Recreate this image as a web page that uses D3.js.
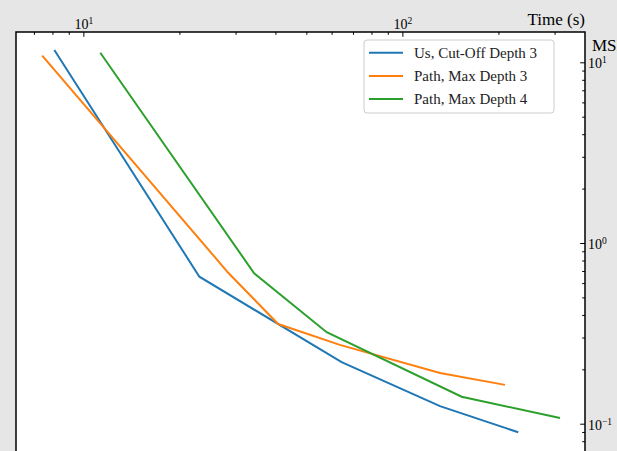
<!DOCTYPE html>
<html>
<head>
<meta charset="utf-8">
<script src="https://cdn.jsdelivr.net/npm/d3@7"></script>
<style>
  body { margin: 0; background: #e6e6e6; }
  svg { display: block; font-family: "Liberation Serif", "DejaVu Serif", serif; }
</style>
</head>
<body>
<svg id="chart" width="617" height="451"></svg>
<script>
const seriesNames = ["Us, Cut-Off Depth 3", "Path, Max Depth 3", "Path, Max Depth 4"];
const usTime = [8.11, 23.1, 64.5, 131.2, 230.8];
const usMse = [11.7, 0.651, 0.219, 0.125, 0.0896];
const path3Time = [7.43, 28.5, 40.8, 63.7, 131.2, 209.7];
const path3Mse = [10.9, 0.682, 0.356, 0.273, 0.191, 0.164];
const path4Time = [11.3, 34.3, 57.9, 153.4, 311.9];
const path4Mse = [11.3, 0.68, 0.321, 0.141, 0.1075];
const xMajor = [10, 100];
const yMajor = [0.1, 1, 10];

const COLORS = ["#1f77b4", "#ff7f0e", "#2ca02c"];
const frame = { left: 16, right: 585, top: 32, bottom: 470 };

const svg = d3.select("#chart");

const x = d3.scaleLog()
  .domain([6.15, 373.6])
  .range([frame.left, frame.right]);

const y = d3.scaleLog()
  .domain([0.1, 10])
  .range([423.7, 62.3]);

// minor ticks from 2..9 of each decade
function minors(scale) {
  const [a, b] = scale.domain();
  const out = [];
  for (let e = Math.floor(Math.log10(a)); e <= Math.ceil(Math.log10(b)); e++) {
    for (let m = 2; m <= 9; m++) {
      const v = m * Math.pow(10, e);
      const p = scale(v);
      if (p >= Math.min(...scale.range()) && p <= Math.max(...scale.range())) out.push(v);
    }
  }
  return out;
}
const yMin = [];
for (let e = -2; e <= 1; e++) for (let m = 2; m <= 9; m++) yMin.push(m * Math.pow(10, e));

svg.append("rect")
  .attr("x", frame.left).attr("y", frame.top)
  .attr("width", frame.right - frame.left).attr("height", frame.bottom - frame.top)
  .attr("fill", "white");

svg.append("defs").append("clipPath").attr("id", "clip")
  .append("rect")
  .attr("x", frame.left).attr("y", frame.top)
  .attr("width", frame.right - frame.left).attr("height", frame.bottom - frame.top);

function supLabel(sel) {
  sel.each(function (d) {
    const t = d3.select(this);
    const exp = Math.round(Math.log10(d));
    t.text(null);
    t.append("tspan").text("10");
    t.append("tspan").attr("dy", "-0.55em").attr("font-size", "0.68em")
      .text(exp < 0 ? "\u2212" + (-exp) : exp);
  });
}

// top x axis
const xMinorAxis = svg.append("g")
  .attr("transform", `translate(0,${frame.top})`)
  .call(d3.axisTop(x).tickValues(minors(x)).tickSize(-2.8).tickFormat(""));
const xAxis = svg.append("g")
  .attr("transform", `translate(0,${frame.top})`)
  .call(d3.axisTop(x).tickValues(xMajor).tickSize(-4.8).tickPadding(3));
xAxis.selectAll(".tick text").attr("font-size", 14).attr("font-family", "Liberation Serif").call(supLabel);

// right y axis
const yClip = yMin.filter((v) => y(v) >= frame.top && y(v) <= frame.bottom);
svg.append("g")
  .attr("transform", `translate(${frame.right},0)`)
  .call(d3.axisRight(y).tickValues(yClip).tickSize(-2.8).tickFormat(""));
const yAxis = svg.append("g")
  .attr("transform", `translate(${frame.right},0)`)
  .call(d3.axisRight(y).tickValues(yMajor).tickSize(-4.8).tickPadding(3));
yAxis.selectAll(".tick text").attr("font-size", 14).attr("font-family", "Liberation Serif").attr("dy", "0.4em").call(supLabel);

svg.selectAll(".domain").remove();
svg.selectAll(".tick line").attr("stroke", "#000").attr("stroke-width", 1);

// lines
const series = [
  { name: seriesNames[0], t: usTime, m: usMse },
  { name: seriesNames[1], t: path3Time, m: path3Mse },
  { name: seriesNames[2], t: path4Time, m: path4Mse },
];

const line = d3.line().x((d) => x(d[0])).y((d) => y(d[1]));

svg.append("g").attr("clip-path", "url(#clip)")
  .selectAll("path")
  .data(series)
  .enter()
  .append("path")
  .attr("d", (s) => line(s.t.map((v, i) => [v, s.m[i]])))
  .attr("fill", "none")
  .attr("stroke", (_, i) => COLORS[i])
  .attr("stroke-width", 2);

// frame
svg.append("rect")
  .attr("x", frame.left).attr("y", frame.top)
  .attr("width", frame.right - frame.left).attr("height", frame.bottom - frame.top)
  .attr("fill", "none").attr("stroke", "#000").attr("stroke-width", 1.5);

// axis labels
svg.append("text")
  .attr("x", frame.right).attr("y", 25)
  .attr("text-anchor", "end")
  .attr("font-size", 17)
  .text("Time (s)");

svg.append("text")
  .attr("x", 592).attr("y", 51)
  .attr("font-size", 17)
  .text("MSE");

// legend
const legend = svg.append("g");
legend.append("rect")
  .attr("x", 364).attr("y", 40)
  .attr("width", 190).attr("height", 73)
  .attr("rx", 3)
  .attr("fill", "white").attr("fill-opacity", 0.8)
  .attr("stroke", "#cccccc").attr("stroke-width", 1);

const items = legend.selectAll(".item")
  .data(series)
  .enter()
  .append("g")
  .attr("class", "item")
  .attr("transform", (_, i) => `translate(0,${52.7 + i * 23.2})`);

items.append("line")
  .attr("x1", 369).attr("x2", 403)
  .attr("stroke", (_, i) => COLORS[i])
  .attr("stroke-width", 2);

items.append("text")
  .attr("x", 414).attr("dy", "0.35em")
  .attr("font-size", 15)
  .attr("fill", "#222")
  .text((s) => s.name);
</script>
</body>
</html>
